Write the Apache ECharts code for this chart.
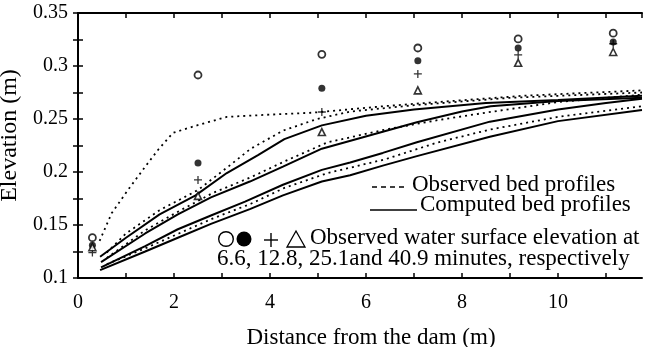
<!DOCTYPE html>
<html>
<head>
<meta charset="utf-8">
<script src="https://cdn.jsdelivr.net/npm/echarts@6/dist/echarts.min.js"></script>
<style>
html,body{margin:0;padding:0;background:#fff;}
#c{width:648px;height:347px;}
</style>
</head>
<body>
<div id="c"></div>
<script>
// ---- data ----
const xTicks = [0, 2, 4, 6, 8, 10];
const yTicks = [0.1, 0.15, 0.2, 0.25, 0.3, 0.35];

// observed bed profiles (dashed)
const observed1 = [[0.45,0.135],[0.7,0.161],[1.04,0.183],[1.4,0.205],[1.67,0.221],[1.98,0.237],[2.48,0.244],[3.1,0.252],[3.94,0.254],[4.9,0.256],[6.35,0.262],[7.5,0.266],[9.3,0.272],[11.75,0.277]];
const observed2 = [[0.6,0.124],[1.0,0.142],[1.7,0.164],[2.5,0.183],[3.1,0.204],[3.6,0.222],[4.27,0.239],[4.98,0.250],[5.67,0.257],[7,0.263],[9,0.27],[11.75,0.275]];
const observed3 = [[0.6,0.119],[1.4,0.145],[2.1,0.163],[2.8,0.180],[3.6,0.195],[4.3,0.210],[5.2,0.228],[6.4,0.240],[7.5,0.249],[8.5,0.256],[10,0.266],[11.75,0.273]];
const observed4 = [[0.6,0.113],[1.4,0.128],[2.1,0.142],[2.8,0.156],[3.6,0.170],[4.3,0.185],[5.2,0.199],[6.4,0.212],[7.5,0.228],[8.58,0.240],[10,0.252],[11.75,0.262]];

// computed bed profiles (solid)
const computed1 = [[0.46,0.12],[1.0,0.138],[1.7,0.160],[2.45,0.178],[3.1,0.199],[3.75,0.216],[4.3,0.231],[5.08,0.244],[6.0,0.253],[7.0,0.259],[8.5,0.265],[10,0.268],[11.75,0.272]];
const computed2 = [[0.48,0.115],[1.4,0.142],[2.08,0.160],[2.77,0.176],[3.58,0.191],[4.27,0.205],[5.08,0.222],[6.35,0.238],[7.06,0.247],[8.0,0.257],[8.6,0.262],[10,0.267],[11.75,0.27]];
const computed3 = [[0.48,0.11],[1.4,0.130],[2.08,0.146],[2.77,0.159],[3.48,0.172],[4.27,0.188],[5.08,0.202],[5.67,0.209],[6.35,0.218],[7.06,0.228],[8.58,0.2475],[10,0.259],[11,0.265],[11.75,0.269]];
const computed4 = [[0.46,0.1075],[1.4,0.125],[2.08,0.138],[2.77,0.151],[3.58,0.165],[4.27,0.178],[5.08,0.191],[5.67,0.197],[6.35,0.206],[7.06,0.215],[8.58,0.2333],[10,0.248],[11.75,0.2585]];

// observed water surface elevation
const wsX = [0.3, 2.5, 5.08, 7.08, 9.17, 11.15];
const ws066 = [0.138, 0.2915, 0.311, 0.317, 0.3255, 0.331];   // 6.6 min, open circle
const ws128 = [0.131, 0.2085, 0.279, 0.305, 0.317, 0.3226];   // 12.8 min, filled circle
const ws251 = [0.124, 0.1925, 0.2566, 0.2925, 0.3105, 0.321]; // 25.1 min, plus
const ws409 = [0.129, 0.1775, 0.2377, 0.277, 0.303, 0.3132];  // 40.9 min, triangle

const FONT = '"Liberation Serif", "Times New Roman", serif';
const pair = (xs, ys) => xs.map((x, i) => [x, ys[i]]);

const chart = echarts.init(document.getElementById('c'), null, {renderer: 'canvas'});

const dashedLine = (d) => ({
  type: 'line', data: d, showSymbol: false, smooth: false, silent: true,
  lineStyle: {color: '#000', width: 1.8, type: [2, 4]}, z: 2
});
const solidLine = (d) => ({
  type: 'line', data: d, showSymbol: false, smooth: false, silent: true,
  lineStyle: {color: '#000', width: 2, type: 'solid'}, z: 3
});

const plusPath = 'path://M4.2,0 L5.8,0 L5.8,4.2 L10,4.2 L10,5.8 L5.8,5.8 L5.8,10 L4.2,10 L4.2,5.8 L0,5.8 L0,4.2 L4.2,4.2 Z';

const axisCommon = {
  axisLine: {show: true, lineStyle: {color: '#000', width: 2}},
  axisTick: {show: true, inside: true, length: 5, lineStyle: {color: '#000', width: 1.5}},
  splitLine: {show: false},
};

const option = {
  backgroundColor: '#fff',
  animation: false,
  grid: {left: 78, right: 6, top: 13, bottom: 69, containLabel: false, outerBoundsMode: 'none'},
  xAxis: [
    Object.assign({
      type: 'value', min: 0, max: 11.75, interval: 1, position: 'bottom',
      name: 'Distance from the dam (m)', nameLocation: 'middle', nameGap: 48,
      nameTextStyle: {fontFamily: FONT, fontSize: 23, color: '#000', verticalAlign: 'top', padding: [0, 0, 0, 22]},
      axisLabel: {
        fontFamily: FONT, fontSize: 20, color: '#000', margin: 15, showMaxLabel: false,
        formatter: v => (xTicks.indexOf(Math.round(v * 1000) / 1000) >= 0 ? String(v) : '')
      }
    }, axisCommon),
    Object.assign({
      type: 'value', min: 0, max: 11.75, interval: 1, position: 'top',
      axisLabel: {show: false}
    }, axisCommon)
  ],
  yAxis: [
    Object.assign({
      type: 'value', min: 0.1, max: 0.35, interval: 0.025, position: 'left',
      name: 'Elevation (m)', nameLocation: 'middle', nameGap: 40,
      nameTextStyle: {fontFamily: FONT, fontSize: 24, color: '#000', padding: [0, 0, 0, 20]},
      axisLabel: {
        fontFamily: FONT, fontSize: 20, color: '#000', margin: 10,
        formatter: v => {
          const r = Math.round(v * 1000) / 1000;
          return yTicks.some(t => Math.abs(t - r) < 1e-6) ? String(r) : '';
        }
      }
    }, axisCommon),
    Object.assign({
      type: 'value', min: 0.1, max: 0.35, interval: 0.025, position: 'right',
      axisLabel: {show: false}
    }, axisCommon)
  ],
  series: [
    dashedLine(observed1), dashedLine(observed2), dashedLine(observed3), dashedLine(observed4),
    solidLine(computed1), solidLine(computed2), solidLine(computed3), solidLine(computed4),
    {type: 'scatter', data: pair(wsX, ws066), symbol: 'circle', symbolSize: 7,
     itemStyle: {color: '#fff', borderColor: '#000', borderWidth: 1.8}, z: 5},
    {type: 'scatter', data: pair(wsX, ws128), symbol: 'circle', symbolSize: 7,
     itemStyle: {color: '#000'}, z: 5},
    {type: 'scatter', data: pair(wsX, ws251), symbol: plusPath, symbolSize: 8,
     itemStyle: {color: '#000'}, z: 5},
    {type: 'scatter', data: pair(wsX, ws409), symbol: 'triangle', symbolSize: 7,
     itemStyle: {color: '#fff', borderColor: '#000', borderWidth: 1.6}, z: 5}
  ],
  graphic: [
    {type: 'line', shape: {x1: 372, y1: 187, x2: 408, y2: 187},
     style: {stroke: '#000', lineWidth: 1.5, lineDash: [5, 4]}},
    {type: 'text', x: 412, y: 185, style: {text: 'Observed bed profiles', font: '23px ' + FONT, fill: '#000', verticalAlign: 'middle'}},
    {type: 'line', shape: {x1: 370, y1: 210, x2: 417, y2: 210},
     style: {stroke: '#000', lineWidth: 1.5}},
    {type: 'text', x: 420, y: 205, style: {text: 'Computed bed profiles', font: '23px ' + FONT, fill: '#000', verticalAlign: 'middle'}},
    {type: 'circle', shape: {cx: 226, cy: 239, r: 7.3}, style: {fill: '#fff', stroke: '#000', lineWidth: 1.4}},
    {type: 'circle', shape: {cx: 244, cy: 239, r: 7.5}, style: {fill: '#000'}},
    {type: 'line', shape: {x1: 264, y1: 240, x2: 278, y2: 240}, style: {stroke: '#000', lineWidth: 1.4}},
    {type: 'line', shape: {x1: 271, y1: 233, x2: 271, y2: 247}, style: {stroke: '#000', lineWidth: 1.4}},
    {type: 'polygon', shape: {points: [[287, 247], [305, 247], [296, 231]]}, style: {fill: '#fff', stroke: '#000', lineWidth: 1.3}},
    {type: 'text', x: 310, y: 238, style: {text: 'Observed water surface elevation at', font: '23px ' + FONT, fill: '#000', verticalAlign: 'middle'}},
    {type: 'text', x: 217, y: 259, style: {text: '6.6, 12.8, 25.1and 40.9 minutes, respectively', font: '23px ' + FONT, fill: '#000', verticalAlign: 'middle'}}
  ]
};
chart.setOption(option);
</script>
</body>
</html>
